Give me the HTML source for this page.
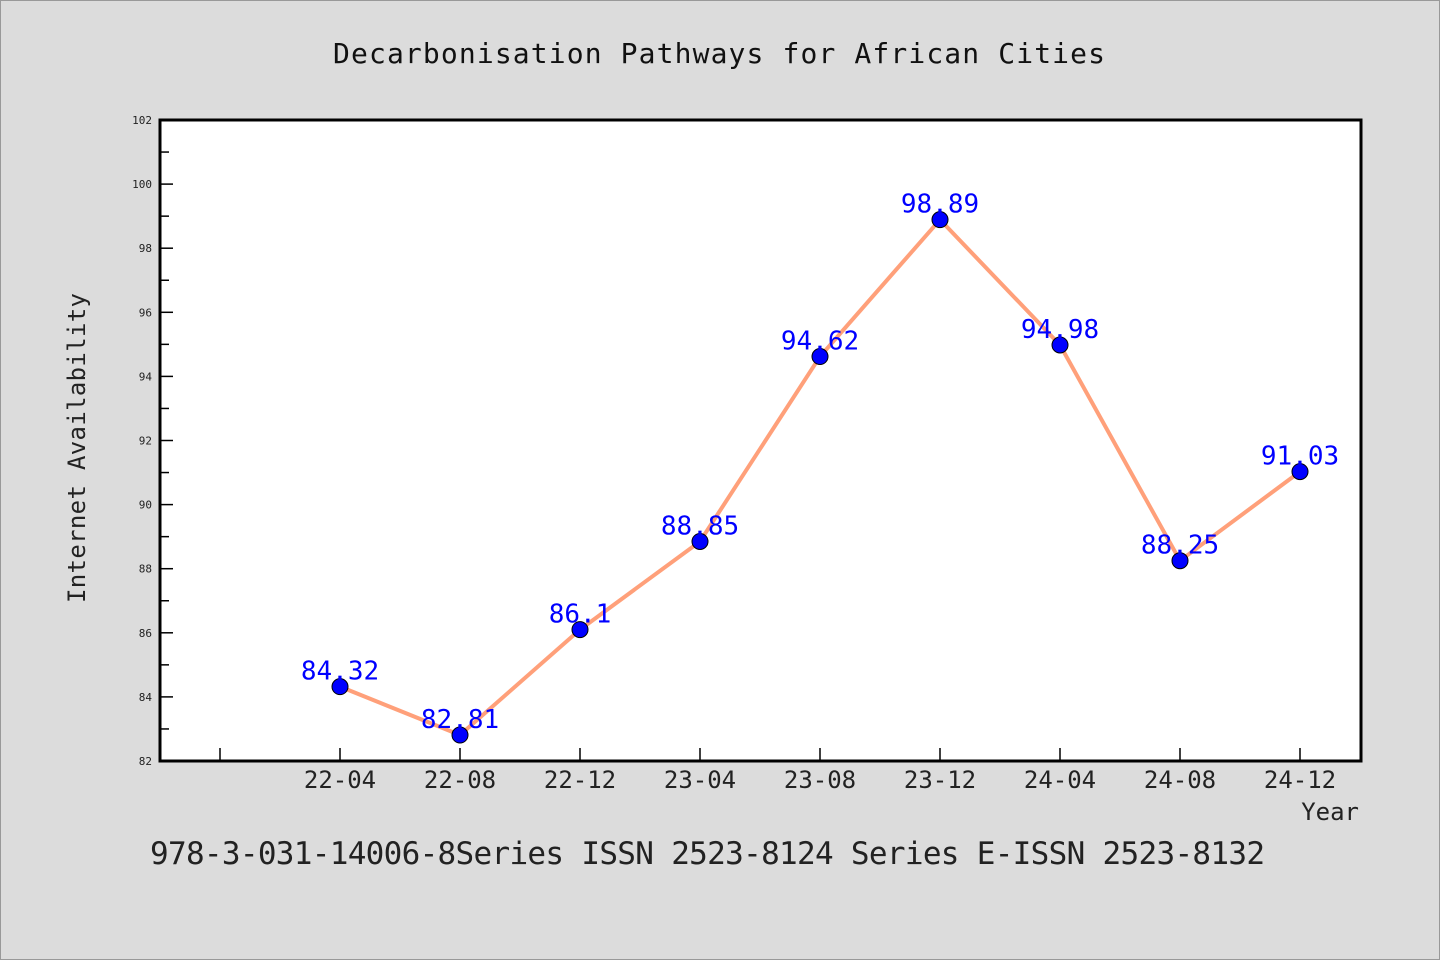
<!DOCTYPE html>
<html><head><meta charset="utf-8"><style>
body{margin:0;background:#dcdcdc;}
svg{display:block;font-family:"WenQuanYi Zen Hei Mono","WenQuanYi Zen Hei","DejaVu Sans Mono",monospace;}
</style></head><body>
<svg id="chart" width="1440" height="960" xmlns="http://www.w3.org/2000/svg">
<rect x="0.5" y="0.5" width="1439" height="959" fill="#dcdcdc" stroke="#999"/>
<text x="719" y="63" font-size="28" text-anchor="middle" textLength="772" fill="#111">Decarbonisation Pathways for African Cities</text>
<rect x="160" y="120" width="1201" height="641" fill="#fff"/>
<g id="ticks"></g>
<g id="series"></g>
<rect x="160" y="120" width="1201" height="641" fill="none" stroke="#000" stroke-width="3"/>
<text transform="translate(85,448) rotate(-90)" font-size="24" text-anchor="middle" textLength="310" fill="#222">Internet Availability</text>
<text x="1359" y="820" font-size="24" text-anchor="end" fill="#222">Year</text>
<text x="150" y="864" font-size="31" textLength="1115" fill="#222">978-3-031-14006-8Series ISSN 2523-8124 Series E-ISSN 2523-8132</text>
</svg>
<script>
const categories = ['22-04','22-08','22-12','23-04','23-08','23-12','24-04','24-08','24-12'];
const values = [84.32, 82.81, 86.1, 88.85, 94.62, 98.89, 94.98, 88.25, 91.03];
const valueLabels = ['84.32','82.81','86.1','88.85','94.62','98.89','94.98','88.25','91.03'];
const yTicks = [82,84,86,88,90,92,94,96,98,100,102];
const NS='http://www.w3.org/2000/svg';
const X0=160,X1=1361,Y0=120,Y1=761,yMin=82,yMax=102;
function xPos(i){return 220+120*(i+1);}
function yPos(v){return Y1-(v-yMin)/(yMax-yMin)*(Y1-Y0);}
function mk(tag,attrs,parent){const e=document.createElementNS(NS,tag);for(const k in attrs)e.setAttribute(k,attrs[k]);parent.appendChild(e);return e;}
const tg=document.getElementById('ticks'), sg=document.getElementById('series');
yTicks.forEach((t,i)=>{
  const y=yPos(t);
  const l=mk('line',{x1:X0,x2:X0+13,y1:y,y2:y,stroke:'#000','stroke-width':1.5},tg);
  
  
  const tx=mk('text',{x:152,y:y+4,'font-size':11,'text-anchor':'end',fill:'#222'},tg);
  tx.textContent=t;
  
  
  if(i<yTicks.length-1){
    const ym=yPos(t+1);
    const m=mk('line',{x1:X0,x2:X0+9,y1:ym,y2:ym,stroke:'#000','stroke-width':1.5},tg);
    
    
  }
});
for(let i=-1;i<categories.length;i++){
  const x=xPos(i);
  const l=mk('line',{x1:x,x2:x,y1:Y1,y2:Y1-13,stroke:'#000','stroke-width':1.5},tg);
  
  
  if(i>=0){
    const tx=mk('text',{x:x,y:Y1+27,'font-size':24,'text-anchor':'middle',fill:'#222'},tg);
    tx.textContent=categories[i];
    
    
  }
}
const pts=values.map((v,i)=>xPos(i)+','+yPos(v)).join(' ');
const pl=mk('polyline',{points:pts,fill:'none',stroke:'#ffa07a','stroke-width':4,'stroke-linejoin':'round'},sg);


values.forEach((v,i)=>{
  const c=mk('circle',{cx:xPos(i),cy:yPos(v),r:8,fill:'#0000ff',stroke:'#000','stroke-width':1},sg);
  
  
  const t=mk('text',{x:xPos(i),y:yPos(v)-7,'font-size':26,'text-anchor':'middle',fill:'#0000ff'},sg);
  t.textContent=valueLabels[i];
  
  
});
</script>
</body></html>
